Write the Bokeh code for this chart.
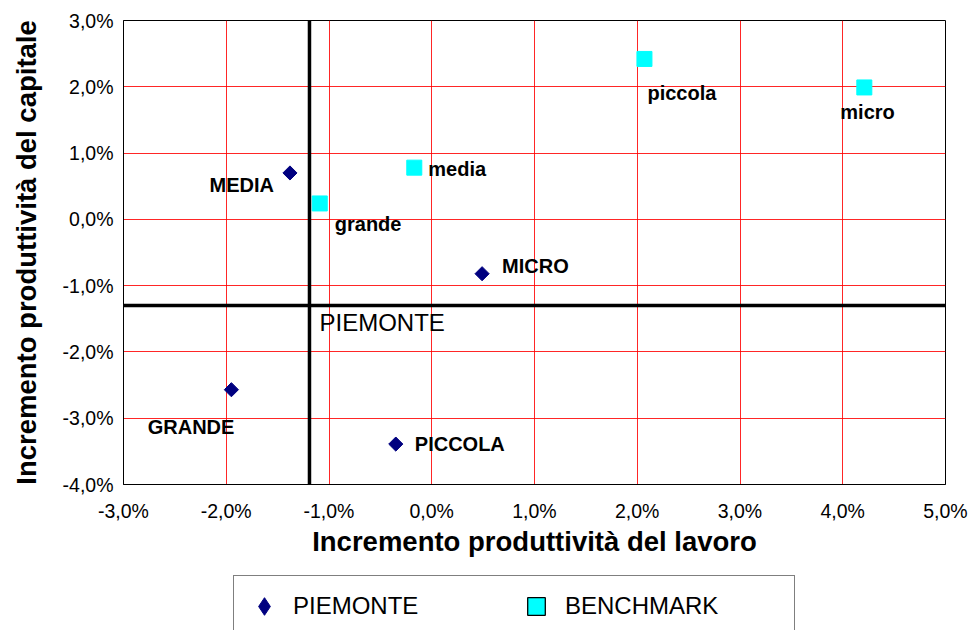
import math
from bokeh.plotting import figure
from bokeh.layouts import column
from bokeh.models import (ColumnDataSource, Span, Legend, LegendItem, FixedTicker,
                          CustomJSTickFormatter, Range1d)
from bokeh.core.properties import value
from bokeh.embed import file_html
from bokeh.resources import INLINE

# ---------------- data (percent) ----------------
piemonte_labels = ["MEDIA", "GRANDE", "PICCOLA", "MICRO"]
piemonte_lavoro = [-1.38, -1.95, -0.35, 0.49]
piemonte_capitale = [0.70, -2.57, -3.39, -0.82]

benchmark_labels = ["grande", "media", "piccola", "micro"]
benchmark_lavoro = [-1.09, -0.17, 2.07, 4.21]
benchmark_capitale = [0.24, 0.78, 2.42, 1.99]

piemonte_totale_lavoro = [-1.19]
piemonte_totale_capitale = [-1.30]
piemonte_totale_label = ["PIEMONTE"]

series_names = ["PIEMONTE", "BENCHMARK"]

x_ticks = [-3, -2, -1, 0, 1, 2, 3, 4, 5]
y_ticks = [-4, -3, -2, -1, 0, 1, 2, 3]

x_title = "Incremento produttività del lavoro"
y_title = "Incremento produttività del capitale"

# ---------------- label placement (style) ----------------
piemonte_align = ["right", "right", "left", "left"]
piemonte_dx = [-16, 3, 19, 20]
piemonte_dy = [12, 37, 0, -8]
benchmark_align = ["left", "left", "left", "left"]
benchmark_dx = [15, 14, 3, -24]
benchmark_dy = [21, 1, 34, 25]

FONT = "Liberation Sans"
NAVY = "#000080"
CYAN = "#00FFFF"

p = figure(frame_width=822, frame_height=464,
           x_range=Range1d(x_ticks[0], x_ticks[-1]), y_range=Range1d(y_ticks[0], y_ticks[-1]),
           output_backend="svg", toolbar_location=None,
           min_border_left=123, min_border_top=20, min_border_right=25, min_border_bottom=80,
           background_fill_color="white", border_fill_color="white")
p.outline_line_color = "black"
p.outline_line_width = 1

fmt = CustomJSTickFormatter(code="return tick.toFixed(1).replace('.', ',') + '%';")
for ax, ticks in ((p.xaxis, x_ticks), (p.yaxis, y_ticks)):
    ax.ticker = FixedTicker(ticks=ticks)
    ax.formatter = fmt
    ax.major_label_text_font = FONT
    ax.major_label_text_font_size = "19.5px"
    ax.major_label_text_color = "black"
    ax.major_tick_line_color = None
    ax.minor_tick_line_color = None
    ax.major_tick_out = 0
    ax.major_tick_in = 0
    ax.axis_line_color = "black"
    ax.axis_label_text_font = FONT
    ax.axis_label_text_font_size = "27.5px"
    ax.axis_label_text_font_style = "bold"
    ax.axis_label_text_color = "black"

p.xaxis.axis_label = x_title
p.yaxis.axis_label = y_title
p.xaxis.major_label_standoff = 15
p.xaxis.axis_label_standoff = 1
p.yaxis.major_label_standoff = 10
p.yaxis.axis_label_standoff = 18

p.xgrid.ticker = FixedTicker(ticks=x_ticks)
p.ygrid.ticker = FixedTicker(ticks=y_ticks)
p.grid.grid_line_color = "red"
p.grid.grid_line_width = 1
p.grid.grid_line_alpha = 0.85

# cross lines for PIEMONTE total
p.add_layout(Span(location=piemonte_totale_lavoro[0], dimension="height",
                  line_color="black", line_width=3.5))
p.add_layout(Span(location=piemonte_totale_capitale[0], dimension="width",
                  line_color="black", line_width=3.5))

src_p = ColumnDataSource(dict(x=piemonte_lavoro, y=piemonte_capitale, label=piemonte_labels,
                              align=piemonte_align, dx=piemonte_dx, dy=piemonte_dy))
src_b = ColumnDataSource(dict(x=benchmark_lavoro, y=benchmark_capitale, label=benchmark_labels,
                              align=benchmark_align, dx=benchmark_dx, dy=benchmark_dy))

p.scatter("x", "y", source=src_p, marker="square", angle=math.pi / 4, size=10,
          fill_color=NAVY, line_color=NAVY)
p.scatter("x", "y", source=src_b, marker="square", size=15,
          fill_color=CYAN, line_color=CYAN)

for src in (src_p, src_b):
    p.text("x", "y", text="label", source=src, text_align="align", x_offset="dx", y_offset="dy",
           text_baseline="middle", text_font=value(FONT), text_font_style="bold",
           text_font_size="20px", text_color="black")

src_t = ColumnDataSource(dict(x=piemonte_totale_lavoro, y=piemonte_totale_capitale,
                              label=piemonte_totale_label))
p.text("x", "y", text="label", source=src_t, x_offset=10, y_offset=17,
       text_baseline="middle", text_align="left", text_font=value(FONT),
       text_font_size="24px", text_color="black")

# ---------------- legend strip (separate figure below) ----------------
lg = figure(width=970, height=66, x_range=Range1d(100, 101), y_range=Range1d(100, 101),
            output_backend="svg", toolbar_location=None,
            min_border_left=0, min_border_right=0, min_border_top=0, min_border_bottom=0,
            background_fill_color="white", border_fill_color="white")
lg.outline_line_color = None
lg.xaxis.visible = False
lg.yaxis.visible = False
lg.grid.visible = False
lr_p = lg.scatter("x", "y", source=src_p, marker="diamond", fill_color=NAVY, line_color=NAVY)
lr_b = lg.scatter("x", "y", source=src_b, marker="square", fill_color=CYAN,
                  line_color="black", line_width=1.3)
legend = Legend(items=[LegendItem(label=series_names[0], renderers=[lr_p]),
                       LegendItem(label=series_names[1], renderers=[lr_b])],
                orientation="horizontal", location=(110, -7),
                glyph_width=44, glyph_height=44, label_standoff=7, label_width=221,
                spacing=0, padding=8, margin=0,
                border_line_color="black", border_line_width=1.3,
                label_text_font=FONT, label_text_font_size="24px", label_text_color="black",
                background_fill_color="white", background_fill_alpha=1.0)
lg.add_layout(legend, "center")

layout = column(p, lg, spacing=0)
open("out.html", "w").write(file_html(layout, INLINE))
